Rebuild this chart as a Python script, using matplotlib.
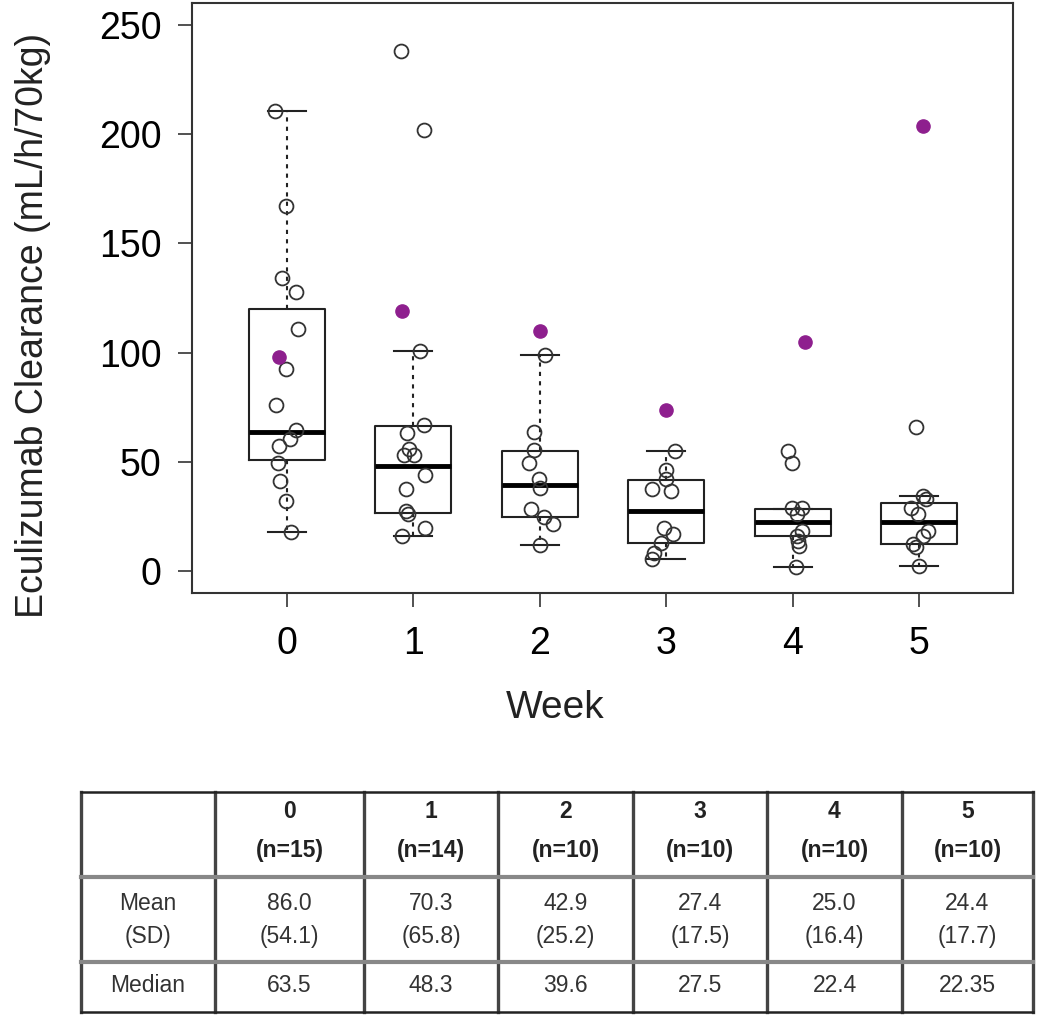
import matplotlib
matplotlib.use("Agg")
import matplotlib.pyplot as plt
import numpy as np

plt.rcParams["font.family"] = ["Liberation Sans", "DejaVu Sans"]

weeks = [0, 1, 2, 3, 4, 5]

# individual clearance values per week (open circles) and their jitter
week0 = [210.8, 167, 134, 127.7, 111, 92.6, 75.9, 64.5, 60.5, 57.2, 49.6, 41.2, 32.1, 18]
jit0 = [-0.095, -0.008, -0.042, 0.071, 0.09, -0.008, -0.087, 0.071, 0.024, -0.063, -0.068, -0.055, -0.008, 0.029]
week1 = [238, 202, 100.8, 66.7, 63, 56, 53, 53, 44.2, 37.5, 27.5, 26, 19.8, 16.1]
jit1 = [-0.10, 0.085, 0.053, 0.085, -0.053, -0.034, -0.074, 0.005, 0.092, -0.06, -0.06, -0.04, 0.092, -0.087]
week2 = [98.7, 63.6, 55.4, 49.3, 42, 38.2, 28.6, 25, 21.4, 11.9]
jit2 = [0.042, -0.05, -0.05, -0.085, -0.01, 0.0, -0.07, 0.03, 0.1, 0.0]
week3 = [55.2, 46.2, 42, 37.4, 36.6, 19.9, 16.9, 13.1, 8.5, 5.5]
jit3 = [0.07, 0.0, 0.0, -0.115, 0.04, -0.02, 0.055, -0.04, -0.1, -0.115]
week4 = [54.9, 49.6, 29, 29, 26, 18.4, 16.1, 14, 11.6, 2.1]
jit4 = [-0.037, -0.008, -0.008, 0.07, 0.03, 0.07, 0.03, 0.04, 0.05, 0.024]
week5 = [65.8, 34.4, 33, 29, 26, 18.4, 16.1, 12.3, 11, 2.4]
jit5 = [-0.026, 0.026, 0.05, -0.066, -0.013, 0.066, 0.026, -0.053, -0.03, 0.0]

# highlighted subject (filled purple)
purple_vals = [98, 119.2, 110.1, 73.6, 105, 203.9]
purple_jit = [-0.063, -0.087, 0.0, 0.0, 0.095, 0.026]

# box summary
whislo = [18, 16.1, 11.9, 5.5, 2.1, 2.4]
q1 = [51, 26.5, 24.8, 13.1, 16.1, 12.3]
med = [63.5, 48.3, 39.6, 27.5, 22.4, 22.35]
q3 = [119.8, 66.5, 55.2, 41.5, 28.6, 31.3]
whishi = [210.8, 100.8, 98.7, 55.2, 28.6, 34.4]

# table
n_subj = [15, 14, 10, 10, 10, 10]
mean_txt = ["86.0", "70.3", "42.9", "27.4", "25.0", "24.4"]
sd_txt = ["(54.1)", "(65.8)", "(25.2)", "(17.5)", "(16.4)", "(17.7)"]
median_txt = ["63.5", "48.3", "39.6", "27.5", "22.4", "22.35"]

W, H = 1050, 1032
fig = plt.figure(figsize=(W / 100, H / 100), dpi=100)
ax = fig.add_axes([192 / W, 1 - 593 / H, (1013 - 192) / W, (593 - 3) / H])

stats = [dict(whislo=a, q1=b, med=c, q3=d, whishi=e)
         for a, b, c, d, e in zip(whislo, q1, med, q3, whishi)]
ax.bxp(stats, positions=weeks, widths=0.6, capwidths=0.3, showfliers=False,
       boxprops=dict(color="#222222", lw=1.5),
       medianprops=dict(color="black", lw=3.5),
       whiskerprops=dict(color="#222222", lw=1.5, linestyle=(0, (2, 2.5))),
       capprops=dict(color="#222222", lw=1.5))

groups = [week0, week1, week2, week3, week4, week5]
jits = [jit0, jit1, jit2, jit3, jit4, jit5]
for w, vals, jit in zip(weeks, groups, jits):
    ax.plot(w + np.array(jit), vals, "o", mfc="none", mec="#333333", ms=10, mew=1.3, zorder=4)
ax.plot(np.array(weeks) + np.array(purple_jit), purple_vals, "o", color="#8E1F8E",
        ms=9.5, zorder=5)

ax.set_xlim(-0.75, 5.74)
ax.set_ylim(-10, 260)
ax.set_xticks(weeks)
ax.set_yticks([0, 50, 100, 150, 200, 250])
ax.tick_params(labelsize=27, length=10, width=1.2, color="#333333")
ax.tick_params(axis="y", pad=12)
ax.tick_params(axis="x", pad=14)
for s in ax.spines.values():
    s.set_linewidth(1.5)
    s.set_color("#333333")

fig.text(33 / W, 1 - 325 / H, "Eculizumab Clearance (mL/h/70kg)", rotation=90,
         ha="center", va="center", fontsize=27, color="#222222")
fig.text(555 / W, 1 - 708 / H, "Week", ha="center", va="center", fontsize=28,
         color="#222222")

# table drawn in pixel coordinates
tx = fig.add_axes([0, 0, 1, 1])
tx.set_xlim(0, W)
tx.set_ylim(H, 0)
tx.axis("off")
cols = [81, 215, 364, 498, 633, 767, 902, 1033]
rows = [792, 877, 962, 1012]
for x in cols:
    tx.plot([x, x], [rows[0], rows[-1]], color="#444444", lw=2.4)
for y in rows[1:-1]:
    tx.plot([cols[0], cols[-1]], [y, y], color="#888888", lw=3)
for y in (rows[0], rows[-1]):
    tx.plot([cols[0], cols[-1]], [y, y], color="#222222", lw=1.8)

fs = 16.5
cx = [(cols[i] + cols[i + 1]) / 2 for i in range(len(cols) - 1)]
tx.text(cx[0], 903, "Mean", ha="center", va="center", fontsize=fs, color="#333333")
tx.text(cx[0], 937, "(SD)", ha="center", va="center", fontsize=fs, color="#333333")
tx.text(cx[0], 986, "Median", ha="center", va="center", fontsize=fs, color="#333333")
for i, w in enumerate(weeks):
    c = cx[i + 1]
    tx.text(c, 812, str(w), ha="center", va="center", fontsize=fs, fontweight="bold", color="#222222")
    tx.text(c, 850, f"(n={n_subj[i]})", ha="center", va="center", fontsize=fs,
            fontweight="bold", color="#222222")
    tx.text(c, 903, mean_txt[i], ha="center", va="center", fontsize=fs, color="#333333")
    tx.text(c, 937, sd_txt[i], ha="center", va="center", fontsize=fs, color="#333333")
    tx.text(c, 986, median_txt[i], ha="center", va="center", fontsize=fs, color="#333333")

fig.savefig("out.png", dpi=100)
